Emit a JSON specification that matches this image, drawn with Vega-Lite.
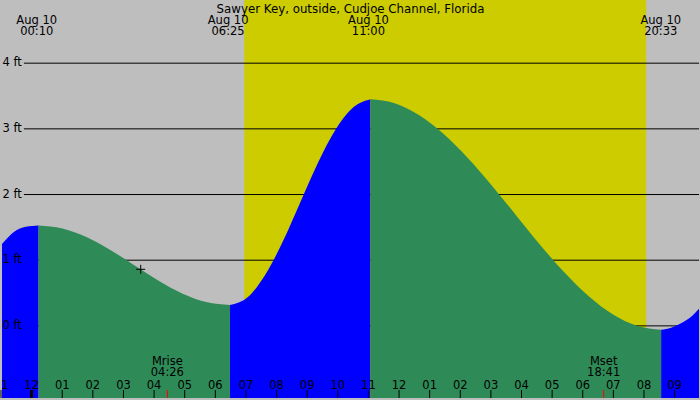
{
  "$schema": "https://vega.github.io/schema/vega-lite/v6.json",
  "width": 700,
  "height": 400,
  "padding": 0,
  "autosize": {"type": "fit", "contains": "padding"},
  "background": "#bebebe",
  "config": {
    "view": {"stroke": null},
    "text": {"font": "DejaVu Sans", "fontSize": 11.5, "fill": "#000000"}
  },
  "datasets": {
    "tide": [
      {"t": -0.967, "h": 1.245, "seg": "a", "dir": "rising"},
      {"t": -0.58, "h": 1.43, "seg": "a", "dir": "rising"},
      {"t": -0.19, "h": 1.51, "seg": "a", "dir": "rising"},
      {"t": 0.226, "h": 1.53, "seg": "a", "dir": "rising"},
      {"t": 0.226, "h": 1.53, "seg": "b", "dir": "falling"},
      {"t": 1.007, "h": 1.484, "seg": "b", "dir": "falling"},
      {"t": 1.789, "h": 1.352, "seg": "b", "dir": "falling"},
      {"t": 2.571, "h": 1.155, "seg": "b", "dir": "falling"},
      {"t": 3.354, "h": 0.923, "seg": "b", "dir": "falling"},
      {"t": 4.135, "h": 0.691, "seg": "b", "dir": "falling"},
      {"t": 4.917, "h": 0.494, "seg": "b", "dir": "falling"},
      {"t": 5.699, "h": 0.362, "seg": "b", "dir": "falling"},
      {"t": 6.48, "h": 0.316, "seg": "b", "dir": "falling"},
      {"t": 6.48, "h": 0.316, "seg": "c", "dir": "rising"},
      {"t": 7.053, "h": 0.435, "seg": "c", "dir": "rising"},
      {"t": 7.626, "h": 0.774, "seg": "c", "dir": "rising"},
      {"t": 8.2, "h": 1.28, "seg": "c", "dir": "rising"},
      {"t": 8.773, "h": 1.878, "seg": "c", "dir": "rising"},
      {"t": 9.345, "h": 2.476, "seg": "c", "dir": "rising"},
      {"t": 9.918, "h": 2.982, "seg": "c", "dir": "rising"},
      {"t": 10.492, "h": 3.321, "seg": "c", "dir": "rising"},
      {"t": 11.065, "h": 3.45, "seg": "c", "dir": "rising"},
      {"t": 11.065, "h": 3.45, "seg": "d", "dir": "falling"},
      {"t": 11.856, "h": 3.39, "seg": "d", "dir": "falling"},
      {"t": 12.648, "h": 3.21, "seg": "d", "dir": "falling"},
      {"t": 13.439, "h": 2.93, "seg": "d", "dir": "falling"},
      {"t": 14.23, "h": 2.565, "seg": "d", "dir": "falling"},
      {"t": 15.022, "h": 2.143, "seg": "d", "dir": "falling"},
      {"t": 15.813, "h": 1.69, "seg": "d", "dir": "falling"},
      {"t": 16.604, "h": 1.237, "seg": "d", "dir": "falling"},
      {"t": 17.396, "h": 0.815, "seg": "d", "dir": "falling"},
      {"t": 18.187, "h": 0.453, "seg": "d", "dir": "falling"},
      {"t": 18.978, "h": 0.175, "seg": "d", "dir": "falling"},
      {"t": 19.77, "h": 0.0, "seg": "d", "dir": "falling"},
      {"t": 20.561, "h": -0.06, "seg": "d", "dir": "falling"},
      {"t": 20.561, "h": -0.06, "seg": "e", "dir": "rising"},
      {"t": 20.886, "h": -0.03, "seg": "e", "dir": "rising"},
      {"t": 21.211, "h": 0.04, "seg": "e", "dir": "rising"},
      {"t": 21.569, "h": 0.15, "seg": "e", "dir": "rising"},
      {"t": 21.797, "h": 0.26, "seg": "e", "dir": "rising"}
    ],
    "grid": [
      {"ft": 0, "label": "0 ft"},
      {"ft": 1, "label": "1 ft"},
      {"ft": 2, "label": "2 ft"},
      {"ft": 3, "label": "3 ft"},
      {"ft": 4, "label": "4 ft"}
    ],
    "hours": [
      {"t": -1, "lab": "11"}, {"t": 0, "lab": "12"}, {"t": 1, "lab": "01"},
      {"t": 2, "lab": "02"}, {"t": 3, "lab": "03"}, {"t": 4, "lab": "04"},
      {"t": 5, "lab": "05"}, {"t": 6, "lab": "06"}, {"t": 7, "lab": "07"},
      {"t": 8, "lab": "08"}, {"t": 9, "lab": "09"}, {"t": 10, "lab": "10"},
      {"t": 11, "lab": "11"}, {"t": 12, "lab": "12"}, {"t": 13, "lab": "01"},
      {"t": 14, "lab": "02"}, {"t": 15, "lab": "03"}, {"t": 16, "lab": "04"},
      {"t": 17, "lab": "05"}, {"t": 18, "lab": "06"}, {"t": 19, "lab": "07"},
      {"t": 20, "lab": "08"}, {"t": 21, "lab": "09"}
    ],
    "moon": [
      {"t": 4.433, "lab": "Mrise\n04:26"},
      {"t": 18.683, "lab": "Mset\n18:41"}
    ],
    "extremes": [
      {"t": 0.167, "lab": "Aug 10\n00:10"},
      {"t": 6.417, "lab": "Aug 10\n06:25"},
      {"t": 11.0, "lab": "Aug 10\n11:00"},
      {"t": 20.55, "lab": "Aug 10\n20:33"}
    ],
    "daylight": [{"t0": 6.945, "t1": 20.073}],
    "title": [{"t": 10.415, "h": 4.826, "lab": "Sawyer Key, outside, Cudjoe Channel, Florida"}],
    "now": [{"t": 3.563, "h": 0.861}]
  },
  "layer": [
    {
      "data": {"name": "daylight"},
      "mark": {"type": "rect", "color": "#cccc00"},
      "encoding": {
        "x": {"field": "t0", "type": "quantitative", "axis": null,
              "scale": {"domain": [-0.9675, 21.797], "nice": false, "zero": false}},
        "x2": {"field": "t1"}
      }
    },
    {
      "data": {"name": "grid"},
      "mark": {"type": "rule", "color": "#000000", "strokeWidth": 1},
      "encoding": {
        "y": {"field": "ft", "type": "quantitative", "axis": null,
              "scale": {"domain": [-1.0985, 4.9621], "nice": false, "zero": false}},
        "x": {"datum": -0.252, "type": "quantitative"},
        "x2": {"datum": 21.797}
      }
    },
    {
      "data": {"name": "tide"},
      "mark": {"type": "area", "interpolate": "monotone", "opacity": 1},
      "encoding": {
        "x": {"field": "t", "type": "quantitative"},
        "y": {"field": "h", "type": "quantitative"},
        "y2": {"datum": -1.0985},
        "detail": {"field": "seg"},
        "color": {"field": "dir", "type": "nominal", "legend": null,
                  "scale": {"domain": ["rising", "falling"], "range": ["#0000ff", "#2e8b57"]}}
      }
    },
    {
      "data": {"name": "grid"},
      "mark": {"type": "text", "align": "left", "baseline": "middle"},
      "encoding": {
        "x": {"datum": -0.95, "type": "quantitative"},
        "y": {"field": "ft", "type": "quantitative"},
        "text": {"field": "label"}
      }
    },
    {
      "data": {"name": "hours"},
      "mark": {"type": "rule", "color": "#000000"},
      "encoding": {
        "x": {"field": "t", "type": "quantitative"},
        "y": {"datum": -0.977, "type": "quantitative"},
        "y2": {"datum": -1.0985},
        "strokeWidth": {"condition": {"test": "datum.t == 0", "value": 3}, "value": 1}
      }
    },
    {
      "data": {"name": "hours"},
      "mark": {"type": "text", "align": "center", "baseline": "middle", "clip": true},
      "encoding": {
        "x": {"field": "t", "type": "quantitative"},
        "y": {"datum": -0.909, "type": "quantitative"},
        "text": {"field": "lab"}
      }
    },
    {
      "data": {"name": "moon"},
      "mark": {"type": "rule", "color": "#ff0000", "strokeWidth": 1},
      "encoding": {
        "x": {"field": "t", "type": "quantitative"},
        "y": {"datum": -0.977, "type": "quantitative"},
        "y2": {"datum": -1.0985}
      }
    },
    {
      "data": {"name": "moon"},
      "mark": {"type": "text", "align": "center", "baseline": "middle", "lineBreak": "\n", "lineHeight": 11.6},
      "encoding": {
        "x": {"field": "t", "type": "quantitative"},
        "y": {"datum": -0.545, "type": "quantitative"},
        "text": {"field": "lab"}
      }
    },
    {
      "data": {"name": "extremes"},
      "mark": {"type": "text", "align": "center", "baseline": "middle", "lineBreak": "\n", "lineHeight": 11.5},
      "encoding": {
        "x": {"field": "t", "type": "quantitative"},
        "y": {"datum": 4.644, "type": "quantitative"},
        "text": {"field": "lab"}
      }
    },
    {
      "data": {"name": "title"},
      "mark": {"type": "text", "align": "center", "baseline": "middle", "fontSize": 11.8},
      "encoding": {
        "x": {"field": "t", "type": "quantitative"},
        "y": {"field": "h", "type": "quantitative"},
        "text": {"field": "lab"}
      }
    },
    {
      "data": {"name": "now"},
      "mark": {"type": "point", "shape": "M-1,0H1M0,-1V1", "size": 81, "filled": false,
               "stroke": "#000000", "strokeWidth": 1, "opacity": 1},
      "encoding": {
        "x": {"field": "t", "type": "quantitative"},
        "y": {"field": "h", "type": "quantitative"}
      }
    }
  ]
}
